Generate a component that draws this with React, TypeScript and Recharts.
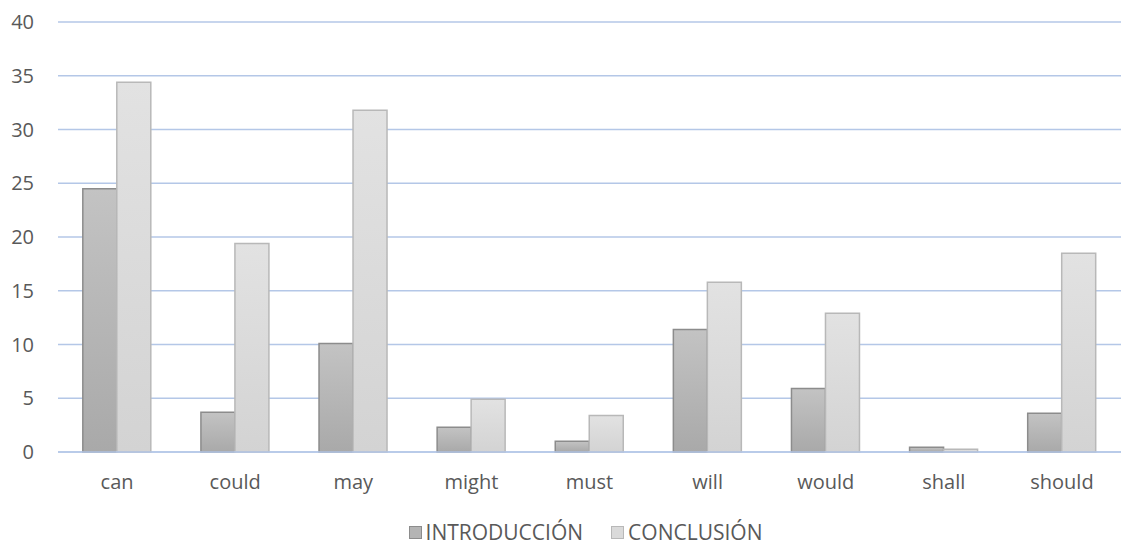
import * as React from "react"
import { BarChart, Bar, XAxis, YAxis, CartesianGrid, Legend } from "recharts"

const categories = ["can", "could", "may", "might", "must", "will", "would", "shall", "should"]
const introduccion = [24.5, 3.7, 10.1, 2.3, 1.0, 11.4, 5.9, 0.45, 3.6]
const conclusion = [34.4, 19.4, 31.8, 4.9, 3.4, 15.8, 12.9, 0.25, 18.5]
const yTicks = [0, 5, 10, 15, 20, 25, 30, 35, 40]

const data = categories.map((name, i) => ({
  name,
  intro: introduccion[i],
  concl: conclusion[i],
}))

const FONT = "'Open Sans', 'Liberation Sans', sans-serif"
const TEXT = "#595959"
const GRID = "#b4c7e7"

const legendItems = [
  { label: "INTRODUCCIÓN", solid: "#b4b4b4", stroke: "#8c8c8c" },
  { label: "CONCLUSIÓN", solid: "#dadada", stroke: "#b8b8b8" },
]

function LegendContent() {
  return (
    <div
      style={{
        display: "flex",
        justifyContent: "center",
        gap: 28,
        fontFamily: FONT,
        fontSize: 21,
        lineHeight: "22px",
        color: TEXT,
        height: 30,
        marginTop: 3,
        paddingLeft: 50,
        alignItems: "center",
      }}
    >
      {legendItems.map((it) => (
        <div key={it.label} style={{ display: "flex", alignItems: "center" }}>
          <span
            style={{
              display: "inline-block",
              width: 11,
              height: 11,
              background: it.solid,
              border: `1px solid ${it.stroke}`,
              marginRight: 4,
            }}
          />
          <span>{it.label}</span>
        </div>
      ))}
    </div>
  )
}

export default function App() {
  return (
    <div style={{ position: "absolute", left: 0, top: 0, background: "#fff" }}>
      <BarChart
        width={1121}
        height={544}
        data={data}
        margin={{ top: 22, right: 0, left: 0, bottom: 0 }}
        barGap={0}
        barCategoryGap="21%"
      >
        <defs>
          <linearGradient id="gradIntro" x1="0" y1="0" x2="0" y2="1">
            <stop offset="0%" stopColor="#c3c3c3" />
            <stop offset="100%" stopColor="#a9a9a9" />
          </linearGradient>
          <linearGradient id="gradConcl" x1="0" y1="0" x2="0" y2="1">
            <stop offset="0%" stopColor="#e2e2e2" />
            <stop offset="100%" stopColor="#d3d3d3" />
          </linearGradient>
        </defs>
        <CartesianGrid vertical={false} stroke={GRID} strokeWidth={1.3} />
        <XAxis
          dataKey="name"
          axisLine={{ stroke: GRID, strokeWidth: 1.3 }}
          tickLine={false}
          tick={{ fill: TEXT, fontSize: 20, fontFamily: FONT }}
          tickMargin={17}
          height={62}
        />
        <YAxis
          width={58}
          domain={[0, 40]}
          ticks={yTicks}
          axisLine={false}
          tickLine={false}
          tickSize={0}
          tickMargin={24}
          tick={{ fill: TEXT, fontSize: 20, fontFamily: FONT }}
        />
        <Legend verticalAlign="bottom" height={30} content={<LegendContent />} />
        <Bar dataKey="intro" name="INTRODUCCIÓN" fill="url(#gradIntro)" stroke="#8c8c8c" strokeWidth={1.5} isAnimationActive={false} />
        <Bar dataKey="concl" name="CONCLUSIÓN" fill="url(#gradConcl)" stroke="#b8b8b8" strokeWidth={1.5} isAnimationActive={false} />
      </BarChart>
    </div>
  )
}
